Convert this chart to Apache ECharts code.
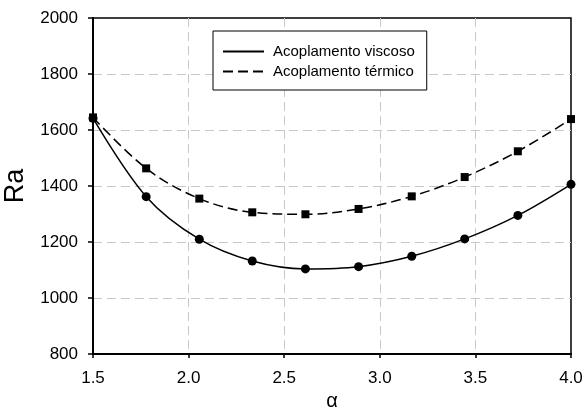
<!DOCTYPE html>
<html lang="en">

<head>
    <meta charset="utf-8">
    <title>Ra vs alpha</title>
    <script src="https://cdn.jsdelivr.net/npm/echarts@6/dist/echarts.min.js"></script>
    <style type="text/css">
        html, body {margin: 0; padding: 0; background: #fff;}
        #chart {width: 585px; height: 409px;}
    </style>
</head>

<body>
    <div id="chart"></div>
    <script>
        var alpha = [1.5, 1.778, 2.056, 2.333, 2.611, 2.889, 3.167, 3.444, 3.722, 4.0];
        var raViscoso = [1642, 1362, 1210, 1132, 1104, 1112, 1149, 1211, 1295, 1406];
        var raTermico = [1645, 1463, 1355, 1306, 1299, 1318, 1363, 1432, 1524, 1639];
        var names = ['Acoplamento viscoso', 'Acoplamento térmico'];
        var font = '"Liberation Sans", Arial, sans-serif';

        function pairs(xs, ys) {
            for (var out = [], i = 0; i < xs.length; i++) {
                out.push([xs[i], ys[i]]);
            }
            return out;
        }

        var grid = {color: '#c8c8c8', width: 1, type: [9, 5]};

        var chart = echarts.init(document.getElementById('chart'), null, {renderer: 'canvas'});
        chart.setOption({
            animation: false,
            backgroundColor: '#fff',
            grid: {
                left: 93, right: 14, top: 18, bottom: 55,
                outerBoundsMode: 'none', containLabel: false,
                show: true, borderColor: '#000', borderWidth: 1.5
            },
            legend: {
                left: 213, top: 31,
                orient: 'vertical',
                data: names,
                itemWidth: 41, itemHeight: 14, itemGap: 5,
                padding: [13, 12, 11, 9],
                borderColor: '#000', borderWidth: 1,
                backgroundColor: '#fff',
                itemStyle: {opacity: 0},
                textStyle: {fontFamily: font, fontSize: 15, lineHeight: 14, color: '#000', padding: [0, 0, 0, 4]}
            },
            xAxis: {
                type: 'value', min: 1.5, max: 4.0, interval: 0.5,
                name: 'α', nameLocation: 'middle', nameGap: 36,
                nameTextStyle: {fontFamily: font, fontSize: 20, color: '#000'},
                axisLine: {lineStyle: {color: '#000', width: 2}},
                axisTick: {length: 4, lineStyle: {color: '#000', width: 1.5}},
                axisLabel: {
                    fontFamily: font, fontSize: 17, color: '#000', margin: 16,
                    formatter: function (v) { return v.toFixed(1); }
                },
                splitLine: {showMinLine: false, showMaxLine: false, lineStyle: grid}
            },
            yAxis: {
                type: 'value', min: 800, max: 2000, interval: 200,
                name: 'Ra', nameLocation: 'middle', nameGap: 61,
                nameTextStyle: {fontFamily: font, fontSize: 27, color: '#000'},
                axisLine: {show: true, lineStyle: {color: '#000', width: 2}},
                axisTick: {show: true, length: 5, lineStyle: {color: '#000', width: 1.5}},
                axisLabel: {
                    fontFamily: font, fontSize: 17, color: '#000', margin: 15,
                    formatter: function (v) { return String(v); }
                },
                splitLine: {showMinLine: false, showMaxLine: false, lineStyle: grid}
            },
            series: [{
                name: names[0], type: 'line', smooth: 0.35,
                data: pairs(alpha, raViscoso),
                symbol: 'circle', symbolSize: 9,
                itemStyle: {color: '#000'},
                lineStyle: {color: '#000', width: 1.5, type: 'solid'}
            }, {
                name: names[1], type: 'line', smooth: 0.35,
                data: pairs(alpha, raTermico),
                symbol: 'rect', symbolSize: 8,
                itemStyle: {color: '#000'},
                lineStyle: {color: '#000', width: 1.5, type: [10, 5]}
            }]
        });
    </script>
</body>
</html>
